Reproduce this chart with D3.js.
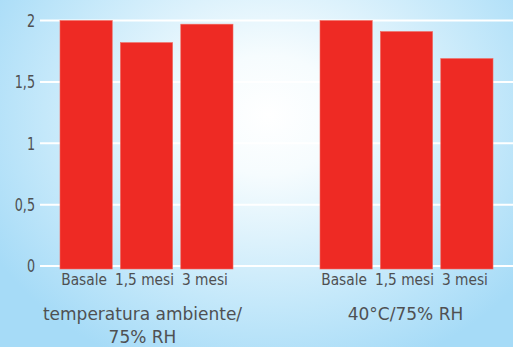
<!DOCTYPE html>
<html>
<head>
<meta charset="utf-8">
<script src="https://cdn.jsdelivr.net/npm/d3@7"></script>
<style>
  html, body { margin: 0; padding: 0; background: #ffffff; }
  svg { display: block; }
  text { font-family: "DejaVu Sans", sans-serif; fill: #4f5052; }
</style>
</head>
<body>
<svg id="chart" width="513" height="347"></svg>
<script>
// Stability data: two storage conditions, three time points each
const groups = ["temperatura ambiente/\n75% RH", "40°C/75% RH"];
const timepoints = ["Basale", "1,5 mesi", "3 mesi"];
const ambientValues = [2.0, 1.82, 1.97];
const acceleratedValues = [2.0, 1.91, 1.69];
const yTicks = [0, 0.5, 1, 1.5, 2];
const yTickLabels = ["0", "0,5", "1", "1,5", "2"];

const seriesByGroup = [ambientValues, acceleratedValues];

const W = 513, H = 347;
const svg = d3.select("#chart");

// Background: soft radial light-blue wash
const defs = svg.append("defs");
const grad = defs.append("radialGradient")
  .attr("id", "bg").attr("gradientUnits", "userSpaceOnUse")
  .attr("cx", 268).attr("cy", 115).attr("r", 320)
  .attr("gradientTransform", "translate(268,115) scale(1,0.85) translate(-268,-115)");
grad.append("stop").attr("offset", "0").attr("stop-color", "#ffffff");
grad.append("stop").attr("offset", "0.22").attr("stop-color", "#f6fcfe");
grad.append("stop").attr("offset", "0.7").attr("stop-color", "#c4e8fa");
grad.append("stop").attr("offset", "1").attr("stop-color", "#a6dbf7");
svg.append("rect").attr("width", W).attr("height", H).attr("fill", "url(#bg)");

const y = d3.scaleLinear().domain([0, 2]).range([266, 20.5]);

// Inner band per time point, repeated for each group
const groupX = [60, 320];
const groupWidth = 173;
const xInner = d3.scaleBand().domain(timepoints).range([0, groupWidth]).paddingInner(0.135).paddingOuter(0);

// Horizontal gridlines
svg.append("g").selectAll("line").data(yTicks).join("line")
  .attr("x1", 40).attr("x2", W)
  .attr("y1", d => y(d)).attr("y2", d => y(d))
  .attr("stroke", "#ffffff").attr("stroke-width", 2);

// Y axis tick labels (narrow face)
const yAxis = d3.axisLeft(y).tickValues(yTicks)
  .tickFormat((d, i) => yTickLabels[i]).tickSize(0).tickPadding(0);
const yAxisG = svg.append("g").attr("transform", "translate(35,0)").call(yAxis);
yAxisG.select(".domain").remove();
yAxisG.selectAll("text")
  .style("font-family", "DejaVu Sans, sans-serif")
  .style("font-size", "17px").attr("fill", "#4f5052")
  .attr("dy", "0.35em").attr("transform", "scale(0.75,1)");

// Bars
groups.forEach((g, gi) => {
  const gEl = svg.append("g").attr("transform", `translate(${groupX[gi]},0)`);
  gEl.selectAll("rect").data(seriesByGroup[gi]).join("rect")
    .attr("x", (d, i) => xInner(timepoints[i]))
    .attr("width", xInner.bandwidth())
    .attr("y", d => y(d))
    .attr("height", d => y(0) - y(d) + 3)
    .attr("fill", "#ee2a24")
    .attr("stroke", "#f06a60").attr("stroke-width", 0.6);

  // Time point labels under each bar
  const xAxis = d3.axisBottom(xInner).tickSize(0).tickPadding(0);
  const ax = gEl.append("g").attr("transform", "translate(0,285)").call(xAxis);
  ax.select(".domain").remove();
  ax.selectAll("text")
    .style("font-family", "DejaVu Sans, sans-serif")
    .style("font-size", "16px").attr("fill", "#4f5052")
    .attr("y", 0).attr("dy", 0)
    .attr("transform", "translate(-2,0) scale(0.86,1)");

  // Group caption (may wrap onto two lines)
  const lines = g.split("\n");
  const cx = groupWidth / 2 - (gi === 0 ? 4 : 1);
  const cap = gEl.append("text").attr("text-anchor", "middle")
    .style("font-size", "17px");
  lines.forEach((ln, li) => {
    cap.append("tspan").attr("x", cx).attr("y", 320 + li * 23).text(ln);
  });
});
</script>
</body>
</html>
